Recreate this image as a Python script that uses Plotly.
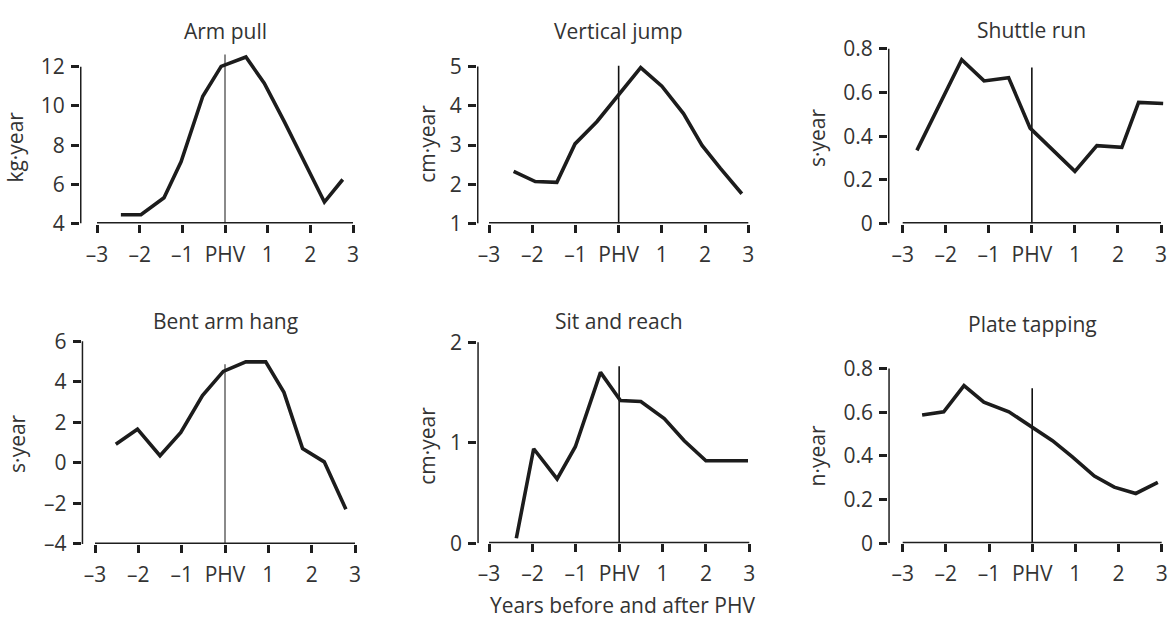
import plotly.graph_objects as go

# ---------------- data ----------------
titles = ["Arm pull", "Vertical jump", "Shuttle run",
          "Bent arm hang", "Sit and reach", "Plate tapping"]
y_units = ["kg·year", "cm·year", "s·year", "s·year", "cm·year", "n·year"]

x_tick_vals = [-3, -2, -1, 0, 1, 2, 3]
x_tick_text = ["–3", "–2", "–1", "PHV", "1", "2", "3"]

arm_pull_x = [-2.44, -1.97, -1.43, -1.03, -0.52, -0.09, 0.49, 0.92, 1.39, 1.86, 2.33, 2.76]
arm_pull_y = [4.45, 4.45, 5.32, 7.15, 10.5, 12.02, 12.5, 11.16, 9.2, 7.15, 5.1, 6.25]

vertical_jump_x = [-2.43, -1.93, -1.43, -1.01, -0.5, 0.51, 1.0, 1.5, 1.93, 2.35, 2.85]
vertical_jump_y = [2.33, 2.07, 2.05, 3.03, 3.6, 4.97, 4.5, 3.8, 2.99, 2.41, 1.76]

shuttle_run_x = [-2.67, -1.63, -1.11, -0.54, -0.04, 1.0, 1.51, 2.09, 2.48, 3.05]
shuttle_run_y = [0.335, 0.75, 0.653, 0.668, 0.437, 0.239, 0.357, 0.349, 0.555, 0.55]

bent_arm_x = [-2.52, -2.02, -1.5, -1.02, -0.52, -0.04, 0.48, 0.94, 1.36, 1.79, 2.29, 2.79]
bent_arm_y = [0.92, 1.66, 0.35, 1.5, 3.32, 4.51, 4.98, 4.98, 3.48, 0.71, 0.05, -2.29]

sit_reach_x = [-2.37, -1.97, -1.43, -1.01, -0.43, 0.03, 0.5, 1.04, 1.5, 2.0, 2.97]
sit_reach_y = [0.05, 0.94, 0.64, 0.96, 1.70, 1.42, 1.41, 1.24, 1.02, 0.82, 0.82]

plate_tap_x = [-2.55, -2.05, -1.58, -1.12, -0.54, -0.03, 0.47, 0.93, 1.44, 1.9, 2.4, 2.91]
plate_tap_y = [0.587, 0.602, 0.722, 0.646, 0.602, 0.536, 0.47, 0.396, 0.308, 0.257, 0.228, 0.279]

y_tick_min = [4, 1, 0, -4, 0, 0]
y_tick_max = [12, 5, 0.8, 6, 2, 0.8]
y_tick_step = [2, 1, 0.2, 2, 1, 0.2]
phv_line_top = [12.63, 5.02, 0.714, 4.87, 1.76, 0.71]

series_x = [arm_pull_x, vertical_jump_x, shuttle_run_x, bent_arm_x, sit_reach_x, plate_tap_x]
series_y = [arm_pull_y, vertical_jump_y, shuttle_run_y, bent_arm_y, sit_reach_y, plate_tap_y]

# ---------------- layout geometry (pixels) ----------------
W, H = 1172, 631
# per panel: pixel of x=-3, pixel of x=3, pixel of y-axis line,
# pixel of y_min, pixel of y_max, top pixel of plot area
geom = [
    (97.0, 353.0, 80.0, 221.0, 58.0, 38.0),
    (489.0, 748.3, 477.0, 221.0, 57.7, 38.0),
    (902.7, 1161.0, 888.0, 221.0, 39.3, 36.0),
    (95.0, 355.0, 81.7, 554.0, 343.3, 338.0),
    (489.0, 749.3, 477.3, 553.3, 344.3, 338.0),
    (902.7, 1161.7, 888.3, 553.3, 371.7, 338.0),
]
ytitle_pos = [(15, 142), (427, 138), (817, 132), (17, 450), (427, 452), (817, 463)]
title_py = [21, 21, 20, 322, 322, 325]
phv_color = ["#8a8a8a", "#111111", "#111111", "#8a8a8a", "#111111", "#111111"]
phv_width = [2.0, 1.6, 1.6, 2.0, 1.6, 1.6]

FONT = "Open Sans"
FS = 21
TXT = "#333333"
AX = "#1e1e1e"

fig = go.Figure()
shapes = []
annotations = []
layout = dict(width=W, height=H, margin=dict(l=0, r=0, t=0, b=0),
              paper_bgcolor="white", plot_bgcolor="white", showlegend=False,
              font=dict(family=FONT, size=FS, color=TXT))

for i in range(6):
    xm3, xp3, yax_px, ypmin, ypmax, ptop = geom[i]
    sx = (xp3 - xm3) / 6.0
    right_px = xp3 + 6
    x_lo = -3 + (yax_px - xm3) / sx
    x_hi = -3 + (right_px - xm3) / sx
    sy = (ypmin - ypmax) / (y_tick_max[i] - y_tick_min[i])
    y_lo = y_tick_min[i]
    y_hi = y_tick_min[i] + (ypmin - ptop) / sy

    n = "" if i == 0 else str(i + 1)
    xa, ya = "x" + n, "y" + n
    yvals = []
    v = y_tick_min[i]
    while v <= y_tick_max[i] + 1e-9:
        yvals.append(round(v, 4))
        v += y_tick_step[i]
    ytext = [("–" + f"{abs(t):g}") if t < 0 else f"{t:g}" for t in yvals]

    layout["xaxis" + n] = dict(
        domain=[yax_px / W, right_px / W], range=[x_lo, x_hi], anchor=ya,
        showgrid=False, zeroline=False, showline=False,
        ticks="outside", ticklen=8, tickwidth=2.8, tickcolor=AX,
        tickvals=x_tick_vals, ticktext=x_tick_text, ticklabelstandoff=4,
        tickfont=dict(family=FONT, size=FS, color=TXT), fixedrange=True)
    layout["yaxis" + n] = dict(
        domain=[1 - ypmin / H, 1 - ptop / H], range=[y_lo, y_hi], anchor=xa,
        showgrid=False, zeroline=False, showline=False,
        ticks="outside", ticklen=8, tickwidth=2.8, tickcolor=AX,
        tickvals=yvals, ticktext=ytext, ticklabelstandoff=2,
        tickfont=dict(family=FONT, size=FS, color=TXT), fixedrange=True)

    # axis lines
    shapes.append(dict(type="line", xref=xa, yref=ya, x0=x_lo, x1=x_lo,
                       y0=y_tick_min[i], y1=y_tick_max[i],
                       line=dict(color=AX, width=3.0), layer="above"))
    shapes.append(dict(type="line", xref=xa, yref=ya, x0=-3, x1=3,
                       y0=y_tick_min[i], y1=y_tick_min[i],
                       line=dict(color=AX, width=3.0), layer="above"))
    # PHV line
    shapes.append(dict(type="line", xref=xa, yref=ya, x0=0, x1=0,
                       y0=y_tick_min[i], y1=phv_line_top[i],
                       line=dict(color=phv_color[i], width=phv_width[i]), layer="below"))

    fig.add_trace(go.Scatter(x=series_x[i], y=series_y[i], mode="lines",
                             xaxis=xa, yaxis=ya,
                             line=dict(color="#1c1c1c", width=3.6),
                             hoverinfo="skip"))

    annotations.append(dict(text=titles[i], xref=xa, x=0, yref="paper",
                            y=1 - title_py[i] / H, showarrow=False,
                            xanchor="center", yanchor="middle",
                            font=dict(family=FONT, size=FS, color=TXT)))
    tx, ty = ytitle_pos[i]
    annotations.append(dict(text=y_units[i], xref="paper", yref="paper",
                            x=tx / W, y=1 - ty / H, showarrow=False,
                            textangle=-90, xanchor="center", yanchor="middle",
                            font=dict(family=FONT, size=FS, color=TXT)))

annotations.append(dict(text="Years before and after PHV", xref="paper", yref="paper",
                        x=622 / W, y=1 - 617 / H, showarrow=False,
                        xanchor="center", yanchor="middle",
                        font=dict(family=FONT, size=FS, color=TXT)))

layout["shapes"] = shapes
layout["annotations"] = annotations
fig.update_layout(**layout)
fig.write_html("out.html")
